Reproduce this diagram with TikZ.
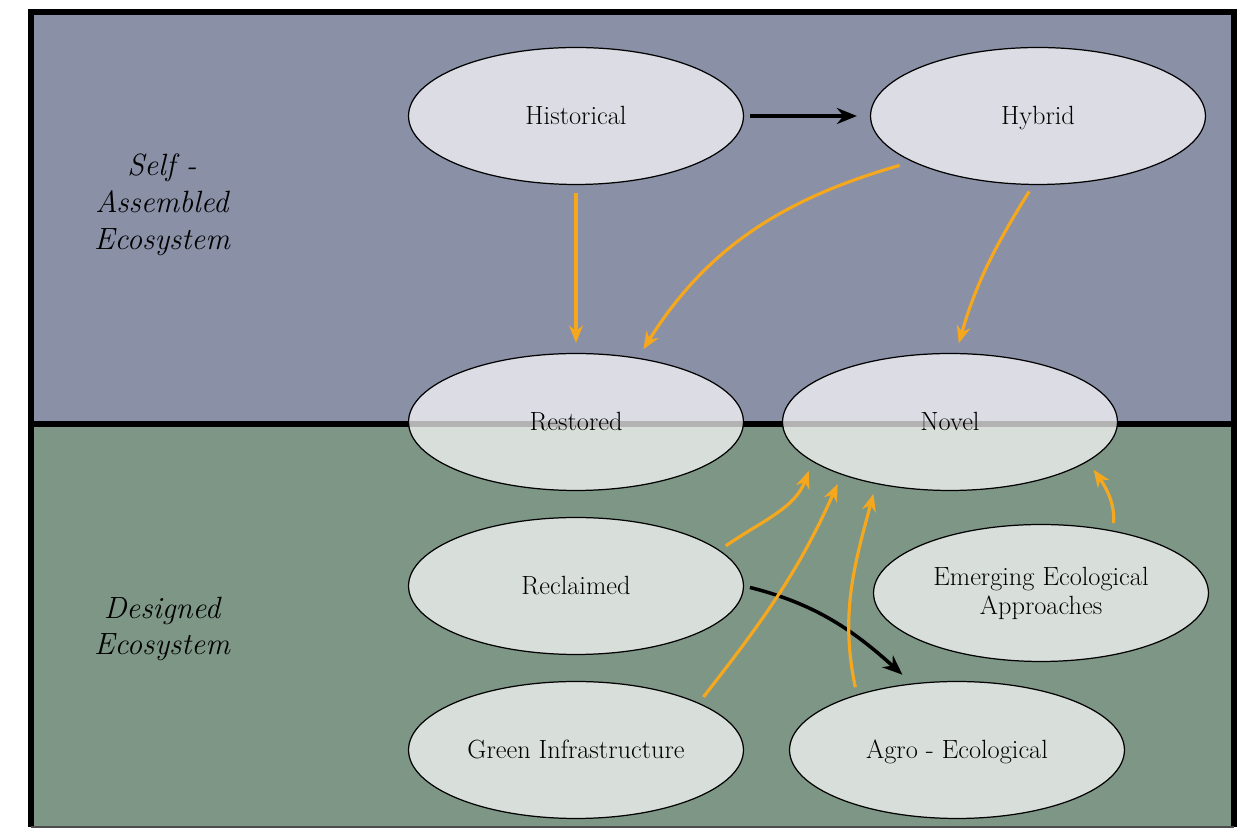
\documentclass[tikz,border=0pt]{standalone}
\usetikzlibrary{shapes.geometric,arrows.meta}

\definecolor{selfbg}{HTML}{8A90A6}
\definecolor{designbg}{HTML}{7E9686}
\definecolor{flowcol}{HTML}{F5A81E}

\begin{document}
\begin{tikzpicture}
    [x=0.02cm, y=0.02cm,
     eco/.style={ellipse, draw=black, line width=0.7pt, fill=white, fill opacity=0.7,
       text opacity=1, minimum width=6.7cm, minimum height=2.74cm, inner sep=0pt,
       align=center, text height=12pt, text depth=2pt,
       font=\fontsize{15}{16.5}\selectfont},
     zone/.style={align=center, font=\fontsize{17.5}{21}\selectfont\itshape},
     flow/.style={-{Stealth[length=3.5mm, width=2.8mm]}, draw=flowcol, line width=1.8pt,
       shorten <=1.5mm, shorten >=2mm},
     push/.style={-{Stealth[length=4mm, width=3.2mm]}, draw=black, line width=2pt,
       shorten <=1.2mm, shorten >=2.6mm}]

    \useasboundingbox (0, 0) rectangle (1249, 828);

    % background bands:
    \fill [selfbg] (30, 404) rectangle (1234, 817);
    \fill [designbg] (30, 1) rectangle (1234, 404);
    \draw [line width=3.4pt] (30, 404) -- (1234, 404);
    \draw [line width=3.2pt] (31, 1) -- (31, 816) -- (1234, 816) -- (1234, 1);
    \draw [line width=0.8pt, black!70] (31, 1) -- (1234, 1);

    % side labels:
    \node (selflabel) at (162, 623) [zone] {Self -\\Assembled\\Ecosystem};
    \node (designlabel) at (162, 199) [zone] {Designed\\Ecosystem};

    % top row:
    \node (hist) at (576, 712) [eco] {Historical};
    \node (hybrid) at (1038, 712) [eco] {Hybrid};

    % middle row:
    \node (restored) at (576, 406) [eco] {Restored};
    \node (novel) at (950, 406) [eco] {Novel};

    % designed ecosystems:
    \node (reclaimed) at (576, 242) [eco] {Reclaimed};
    \node (emerging) at (1041, 235) [eco, text height={}, text depth={}]
      {Emerging Ecological\\Approaches};
    \node (green) at (576, 78) [eco] {Green Infrastructure};
    \node (agro) at (957, 78) [eco] {Agro - Ecological};

    % connect nodes:

    \draw [push] (hist) to (hybrid);
    \draw [push] (reclaimed.0) to [out=-14, in=138] (agro.124);

    \draw [flow] (hist) to (restored);
    \draw [flow, shorten <=2.6mm] (hybrid.200) to [out=196, in=58] (restored.46);
    \draw [flow] (hybrid.266) to [out=238, in=74] (novel.85);
    \draw [flow] (reclaimed.14) to [out=35, in=250] (novel.196);
    \draw [flow] (green.21) to [out=52, in=246] (novel.206);
    \draw [flow] (agro.151) to [out=102, in=255] (novel.220);
    \draw [flow] (emerging.41) to [out=85, in=-55] (novel.344);

  \end{tikzpicture}
\end{document}
